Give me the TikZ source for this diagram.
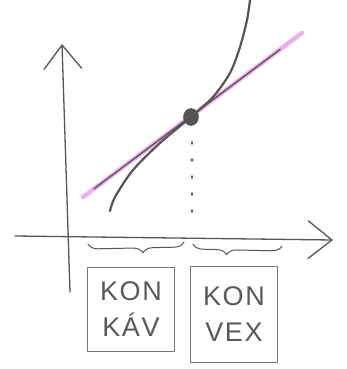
\documentclass[tikz,border=0pt]{standalone}
\usepackage{fontspec}
\newfontfamily\handfont[LetterSpace=6]{Liberation Sans}
\usetikzlibrary{arrows.meta,calc,decorations.pathreplacing,shapes.geometric}
\definecolor{pencil}{RGB}{85,85,85}
\definecolor{marker}{RGB}{236,175,236}
\tikzset{
  axis/.style={pencil,line width=1.3pt,-{Straight Barb[length=24pt,width=38pt,line width=1.3pt]}},
  box/.style={draw=pencil!80,line width=0.9pt,minimum width=87pt,minimum height=86pt,inner sep=0pt,
    align=center,text=black!65,font=\handfont\fontsize{27}{36}\selectfont},
  brc/.style={pencil,line width=1pt,decorate,decoration={brace,mirror,amplitude=10pt}}
}
\begin{document}
\begin{tikzpicture}[x=1pt,y=-1pt,line cap=round,line join=round]
\useasboundingbox (0,0) rectangle (347,369);
% axes
\coordinate (ys) at (70,292);
\coordinate (ye) at (62,44);
\coordinate (xs) at (15,236);
\coordinate (xe) at (333,240);
\draw[axis] (ys) -- (ye);
\draw[axis] (xs) -- (xe);
% tangent at the inflection point
\coordinate (ta) at (83,197);
\coordinate (tb) at (302,33);
\draw[marker,line width=4.5pt] (ta) -- (tb);
\draw[pencil,line width=1.3pt] ($(ta)!0.05!(tb)$) -- ($(ta)!0.9!(tb)$);
% the curve
\draw[pencil,line width=2.2pt] plot[smooth] coordinates {(110,211) (115,197) (133,170) (160,143) (191,117) (213,97) (230,73) (240,47) (247,20) (250,0)};
\node[ellipse,fill=pencil,draw=pencil!80!black,minimum width=15pt,minimum height=17pt,inner sep=0pt] (ip) at (191,117) {};
\draw[pencil,line width=1.3pt,dash pattern=on 2pt off 15pt] ($(ip)+(1,25)$) -- ($(ip |- xs)+(1,-10)$);
% braces
\draw[brc,decoration={aspect=0.57}] (88,244) -- (184,242);
\draw[brc,decoration={aspect=0.38}] (193,244) -- (282,246);
% boxes
\node[box,minimum height=84pt] (kav) at (131,309) {KON\\KÁV};
\node[box,minimum height=96pt] (vex) at (234,314) {KON\\VEX};
\end{tikzpicture}
\end{document}
